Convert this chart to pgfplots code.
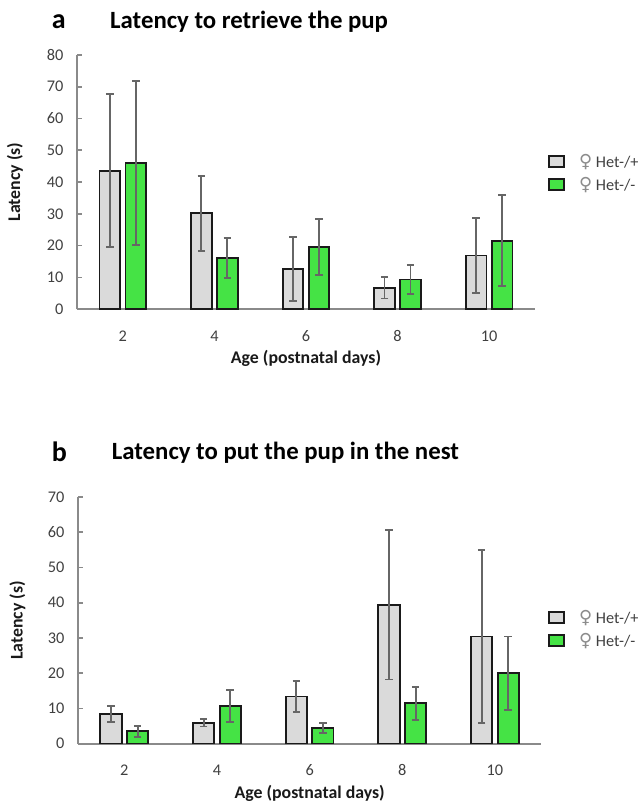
\documentclass[border=0pt]{standalone}
\usepackage{fontspec}
\setmainfont{Carlito}
\newfontfamily\symfont{DejaVu Sans}
\usepackage{pgfplots}
\pgfplotsset{compat=1.18}
\definecolor{barg}{HTML}{DADADA}
\definecolor{bargreen}{HTML}{45E345}
\definecolor{errc}{HTML}{666666}
\definecolor{axisc}{HTML}{8A8A8A}
\definecolor{tickc}{HTML}{404040}
\definecolor{femc}{HTML}{8C8C8C}
\definecolor{barline}{HTML}{1A1A1A}

\pgfplotsset{
  mystyle/.style={
    scale only axis,
    xmin=-0.5, xmax=4.5, ymin=0,
    enlargelimits=false,
    axis x line=bottom, axis y line=left,
    axis line style={axisc, line width=1.6pt, -},
    xtick={0,1,2,3,4}, xticklabels={2,4,6,8,10},
    xtick style={draw=none},
    ytick style={draw=axisc, line width=1.6pt},
    tick align=inside, major tick length=5pt,
    ybar=5.3pt, bar width=20.7pt,
    /pgf/number format/assume math mode=true,
    tick label style={font=\fontsize{16.3}{19}\selectfont, text=tickc},
    y tick label style={anchor=east, inner sep=0pt, xshift=-13.5pt},
    xlabel={Age (postnatal days)},
    ylabel={Latency (s)},
    label style={font=\bfseries\fontsize{17.8}{20}\selectfont, text=black!90},
    xlabel style={anchor=center},
    ylabel style={anchor=center},
    legend cell align=left,
    legend image code/.code={\draw[#1, line width=1.8pt] (0pt,-5.5pt) rectangle (15pt,5.5pt);},
    legend style={draw=none, fill=none, inner sep=0pt, row sep=4pt,
      font=\fontsize{16.3}{19}\selectfont, text=tickc,
      /tikz/every odd column/.append style={column sep=12pt}},
  },
  grayb/.style={fill=barg, draw=barline, line width=1.8pt,
    error bars/.cd, y dir=both, y explicit,
    error bar style={errc, line width=1.8pt},
    error mark options={rotate=90, mark size=3.8pt, line width=1.8pt, draw=errc}},
  greenb/.style={fill=bargreen, draw=barline, line width=1.8pt,
    error bars/.cd, y dir=both, y explicit,
    error bar style={errc, line width=1.8pt},
    error mark options={rotate=90, mark size=3.8pt, line width=1.8pt, draw=errc}},
}
\newcommand{\fem}{{\color{femc}\symfont\fontsize{18}{19}\selectfont ♀}}

\begin{document}
\begin{tikzpicture}
\useasboundingbox (0pt,0pt) rectangle (639pt,804pt);

% ---------- panel a ----------
\node[anchor=base west, inner sep=0pt, font=\bfseries\fontsize{28}{30}\selectfont] at (51.7pt,775.7pt) {a};
\node[anchor=base west, inner sep=0pt, font=\bfseries\fontsize{24.8}{28}\selectfont] at (110pt,775.7pt) {Latency to retrieve the pup};

\begin{axis}[mystyle,
  at={(77pt,494.7pt)}, anchor=south west,
  width=458pt, height=254.4pt,
  ymax=80, ytick={0,10,...,80},
  x tick label style={anchor=center, yshift=-21.7pt},
  xlabel style={at={(axis description cs:0.5,-0.1914)}},
  ylabel style={at={(axis description cs:-0.1354,0.5)}},
  legend style={at={(axis description cs:1.0285,0.617)}, anchor=north west},
]
\addplot[grayb] coordinates {
  (0,43.6) +- (0,24.1)
  (1,30.2) +- (0,11.8)
  (2,12.7) +- (0,10.0)
  (3,6.8)  +- (0,3.4)
  (4,16.9) +- (0,11.7)
};
\addplot[greenb] coordinates {
  (0,46.0) +- (0,25.7)
  (1,16.2) +- (0,6.3)
  (2,19.6) +- (0,8.8)
  (3,9.4)  +- (0,4.6)
  (4,21.6) +- (0,14.3)
};
\legend{\fem\ Het-/+, \fem\ Het-/-}
\end{axis}

% ---------- panel b ----------
\node[anchor=base west, inner sep=0pt, font=\bfseries\fontsize{28}{30}\selectfont] at (51.7pt,342pt) {b};
\node[anchor=base west, inner sep=0pt, font=\bfseries\fontsize{24.8}{28}\selectfont] at (111.7pt,344.5pt) {Latency to put the pup in the nest};

\begin{axis}[mystyle,
  at={(78pt,60.3pt)}, anchor=south west,
  width=463.3pt, height=246.7pt,
  ymax=70, ytick={0,10,...,70},
  bar width=21.3pt,
  x tick label style={anchor=center, yshift=-21.3pt},
  xlabel style={at={(axis description cs:0.5,-0.1998)}},
  ylabel style={at={(axis description cs:-0.1306,0.5)}},
  legend style={at={(axis description cs:1.0145,0.55)}, anchor=north west},
]
\addplot[grayb] coordinates {
  (0,8.4)  +- (0,2.3)
  (1,5.9)  +- (0,1.0)
  (2,13.4) +- (0,4.3)
  (3,39.4) +- (0,21.2)
  (4,30.4) +- (0,24.6)
};
\addplot[greenb] coordinates {
  (0,3.5)  +- (0,1.6)
  (1,10.7) +- (0,4.5)
  (2,4.5)  +- (0,1.4)
  (3,11.5) +- (0,4.7)
  (4,20.0) +- (0,10.4)
};
\legend{\fem\ Het-/+, \fem\ Het-/-}
\end{axis}
\end{tikzpicture}
\end{document}
